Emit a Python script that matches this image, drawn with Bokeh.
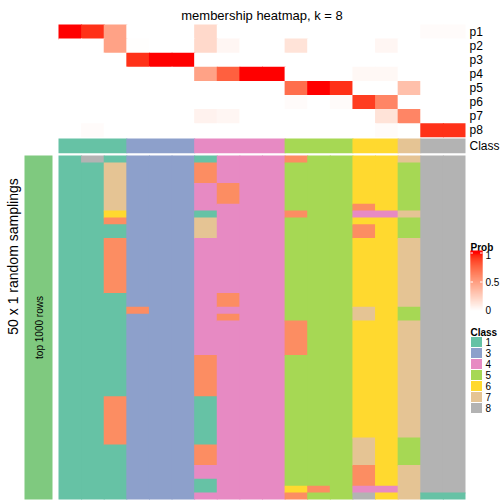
import numpy as np
from bokeh.plotting import figure
from bokeh.models import Range1d, ColumnDataSource, LinearColorMapper
from bokeh.transform import transform
from bokeh.core.properties import value
from bokeh.embed import file_html
from bokeh.resources import INLINE

# ---------------- data ----------------
title_text = "membership heatmap, k = 8"
col_class = [1, 1, 1, 3, 3, 3, 4, 4, 4, 4, 5, 5, 5, 6, 6, 7, 8, 8]
prob_labels = ["p1", "p2", "p3", "p4", "p5", "p6", "p7", "p8"]
p1 = [1.00, 0.93, 0.48, 0, 0, 0, 0.20, 0, 0, 0, 0, 0, 0, 0, 0, 0, 0.02, 0.02]
p2 = [0, 0, 0.48, 0.01, 0, 0, 0.20, 0.05, 0, 0, 0.15, 0, 0, 0, 0.05, 0, 0, 0]
p3 = [0, 0, 0, 0.93, 1.00, 1.00, 0, 0, 0, 0, 0, 0, 0, 0, 0, 0, 0, 0]
p4 = [0, 0, 0, 0, 0, 0, 0.48, 0.78, 1.00, 1.00, 0, 0, 0, 0.04, 0.04, 0, 0, 0]
p5 = [0, 0, 0, 0, 0, 0, 0, 0, 0, 0, 0.72, 1.00, 0.93, 0, 0, 0.33, 0, 0]
p6 = [0, 0, 0, 0, 0, 0, 0, 0, 0, 0, 0.02, 0, 0.02, 0.90, 0.62, 0, 0, 0]
p7 = [0, 0, 0, 0, 0, 0, 0.07, 0.05, 0, 0, 0, 0, 0, 0, 0.15, 0.62, 0, 0]
p8 = [0, 0.02, 0, 0, 0, 0, 0, 0, 0, 0, 0, 0, 0, 0, 0.02, 0, 0.93, 0.93]
prob_matrix = [p1, p2, p3, p4, p5, p6, p7, p8]

# class of each sample (column) in each of the 50 random samplings (rows)
sampling_rows = [
    "181333144425566788",
    "117333244455566588",
    "117333244455566588",
    "117333244455566588",
    "117333424455566588",
    "117333424455566588",
    "117333424455566588",
    "117333444455526588",
    "116333144425544788",
    "112333744455566588",
    "111333744455526588",
    "111333744455526588",
    "112333444455566788",
    "112333444455566788",
    "112333444455566788",
    "112333444455566788",
    "112333444455566788",
    "112333444455566788",
    "112333444455566788",
    "112333444455566788",
    "111333424455566788",
    "111333424455566788",
    "111233444455576588",
    "111333424455576588",
    "111333444425566788",
    "111333444425566788",
    "111333444425566788",
    "111333444425566788",
    "111333444425566788",
    "111333244455566788",
    "111333244455566788",
    "111333244455566788",
    "111333244455566788",
    "111333244455566788",
    "111333244455566788",
    "112333144455566788",
    "112333144455566788",
    "112333144455566788",
    "112333144455566788",
    "112333144455566788",
    "112333144455566788",
    "112333144455576588",
    "111333244455576588",
    "111333244455576588",
    "111333244455576588",
    "111333444455526788",
    "111333444455526788",
    "111333144455526788",
    "111333144462544788",
    "111333444425586711",
]

class_colors = {1: "#66C2A5", 2: "#FC8D62", 3: "#8DA0CB", 4: "#E78AC3",
                5: "#A6D854", 6: "#FFD92F", 7: "#E5C494", 8: "#B3B3B3"}
legend_classes = [1, 3, 4, 5, 6, 7, 8]
prob_ticks = [0, 0.5, 1]
prob_tick_labels = ["0", "0.5", "1"]
row_title = "50 x 1 random samplings"
anno_text = "top 1000 rows"
anno_color = "#7FC97F"

# ---------------- colour ramp white -> red in LAB ----------------
def _srgb_to_lin(c):
    return c / 12.92 if c <= 0.04045 else ((c + 0.055) / 1.055) ** 2.4

def _lin_to_srgb(c):
    c = min(max(c, 0.0), 1.0)
    return 12.92 * c if c <= 0.0031308 else 1.055 * c ** (1 / 2.4) - 0.055

WX, WY, WZ = 0.95047, 1.0, 1.08883

def rgb_to_lab(r, g, b):
    r, g, b = (_srgb_to_lin(v) for v in (r, g, b))
    X = 0.4124 * r + 0.3576 * g + 0.1805 * b
    Y = 0.2126 * r + 0.7152 * g + 0.0722 * b
    Z = 0.0193 * r + 0.1192 * g + 0.9505 * b
    def f(t):
        return t ** (1 / 3) if t > 0.008856 else 7.787 * t + 16 / 116
    fx, fy, fz = f(X / WX), f(Y / WY), f(Z / WZ)
    return 116 * fy - 16, 500 * (fx - fy), 200 * (fy - fz)

def lab_to_hex(L, a, b):
    fy = (L + 16) / 116
    fx = fy + a / 500
    fz = fy - b / 200
    def finv(t):
        return t ** 3 if t ** 3 > 0.008856 else (t - 16 / 116) / 7.787
    X, Y, Z = WX * finv(fx), WY * finv(fy), WZ * finv(fz)
    r = 3.2406 * X - 1.5372 * Y - 0.4986 * Z
    g = -0.9689 * X + 1.8758 * Y + 0.0415 * Z
    bb = 0.0557 * X - 0.2040 * Y + 1.0570 * Z
    return "#%02X%02X%02X" % tuple(int(round(_lin_to_srgb(v) * 255)) for v in (r, g, bb))

lab_w = rgb_to_lab(1, 1, 1)
lab_r = rgb_to_lab(1, 0, 0)
palette = [lab_to_hex(*[w + (rr - w) * t for w, rr in zip(lab_w, lab_r)])
           for t in np.linspace(0, 1, 256)]
mapper = LinearColorMapper(palette=palette, low=0, high=1)

# ---------------- layout (reference pixel units) ----------------
W = H = 504
REF = 504
FONT = value("Liberation Sans")
def fs(px):
    return value(f"{px}px")

n_cols = len(col_class)
HM_L, HM_R = 58, 465
cw = (HM_R - HM_L) / n_cols
TOP_Y, PH = 24, 14.1
CLASS_TOP, CLASS_H = 138, 14.8
BOT_T, BOT_B = 155, 499
n_samp = len(sampling_rows)
bh = (BOT_B - BOT_T) / n_samp
EPS_X = 1.0 / cw   # ~1px overlap so that adjacent blocks leave no hairline seams
EPS_PY = 1.0 / PH
EPS_BY = 1.0 / bh

p = figure(width=W, height=H, output_backend="svg", toolbar_location=None,
           x_range=Range1d(0, REF), y_range=Range1d(REF, 0), min_border=0)
p.axis.visible = False
p.grid.visible = False
p.outline_line_color = None
p.background_fill_color = "white"
p.border_fill_color = "white"

p.extra_x_ranges = {"cols": Range1d(-HM_L / cw, (REF - HM_L) / cw)}
p.extra_y_ranges = {
    "top": Range1d((REF - TOP_Y) / PH, -TOP_Y / PH),
    "bot": Range1d((REF - BOT_T) / bh, -BOT_T / bh),
}

def runs(seq):
    """merge consecutive equal values: returns (start, end, value)"""
    out = []
    s = 0
    for k in range(1, len(seq) + 1):
        if k == len(seq) or seq[k] != seq[s]:
            out.append((s, k, seq[s]))
            s = k
    return out

# probability heatmap
pl, pr, pt, pb, pv = [], [], [], [], []
n_p = len(prob_matrix)
for i, row in enumerate(prob_matrix):
    for j, v in enumerate(row):
        pl.append(j)
        pr.append(j + 1 + (EPS_X if j < n_cols - 1 else 0))
        pt.append(i)
        pb.append(i + 1 + (EPS_PY if i < n_p - 1 else 0))
        pv.append(v)
src_p = ColumnDataSource(dict(left=pl, right=pr, top=pt, bottom=pb, v=pv))
p.quad(left="left", right="right", top="top", bottom="bottom", source=src_p,
       fill_color=transform("v", mapper), line_color=None,
       x_range_name="cols", y_range_name="top")

# row labels
p.text(x=[HM_R + 4] * len(prob_labels), y=[i + 0.5 for i in range(len(prob_labels))],
       text=prob_labels, text_font=FONT, text_font_size=fs(12), text_color="black",
       text_align="left", text_baseline="middle", y_range_name="top")

# class row (runs of equal class merged)
cls_y = (CLASS_TOP - TOP_Y) / PH
cls_h = CLASS_H / PH
cr = runs(col_class)
src_c = ColumnDataSource(dict(
    left=[a for a, b, k in cr],
    right=[b + (EPS_X if b < n_cols else 0) for a, b, k in cr],
    c=[class_colors[k] for a, b, k in cr]))
p.quad(left="left", right="right", top=cls_y, bottom=cls_y + cls_h, source=src_c,
       fill_color="c", line_color=None, x_range_name="cols", y_range_name="top")
p.text(x=[HM_R + 4], y=[cls_y + cls_h / 2], text=["Class"], text_font=FONT,
       text_font_size=fs(12), text_align="left", text_baseline="middle",
       y_range_name="top")

# sampling heatmap: per column, runs of equal class merged into one block
bl, br, bt, bb_, bc = [], [], [], [], []
for j in range(n_cols):
    colseq = [int(row[j]) for row in sampling_rows]
    for a, b, k in runs(colseq):
        bl.append(j)
        br.append(j + 1 + (EPS_X if j < n_cols - 1 else 0))
        bt.append(a)
        bb_.append(b + (EPS_BY if b < n_samp else 0))
        bc.append(class_colors[k])
src_b = ColumnDataSource(dict(left=bl, right=br, top=bt, bottom=bb_, c=bc))
p.quad(left="left", right="right", top="top", bottom="bottom", source=src_b,
       fill_color="c", line_color=None, x_range_name="cols", y_range_name="bot")

# left annotation bar
p.quad(left=[24], right=[52], top=[0], bottom=[n_samp], fill_color=anno_color,
       line_color=None, y_range_name="bot")
p.text(x=[38.5], y=[n_samp / 2], text=[anno_text], angle=np.pi / 2, text_font=FONT,
       text_font_size=fs(10), text_align="center", text_baseline="middle",
       y_range_name="bot")

# row title
p.text(x=[12.5], y=[256], text=[row_title], angle=np.pi / 2, text_font=FONT,
       text_font_size=fs(14), text_align="center", text_baseline="middle")

# title
p.text(x=[(HM_L + HM_R) / 2], y=[15], text=[title_text], text_font=FONT,
       text_font_size=fs(13), text_align="center", text_baseline="alphabetic")

# Prob legend
LX0, LX1 = 470, 482
CB_TOP, CB_BOT = 250.5, 310.5
def vy(v):
    return 310.5 - 58 * v
p.text(x=[LX0], y=[247], text=["Prob"], text_font=FONT, text_font_size=fs(10),
       text_font_style="bold", text_align="left", text_baseline="alphabetic")
n_steps = 120
seg = (CB_BOT - CB_TOP) / n_steps
src_cb = ColumnDataSource(dict(
    top=[CB_BOT - (k + 1) * seg - 0.4 for k in range(n_steps)],
    bottom=[CB_BOT - k * seg for k in range(n_steps)],
    v=[min(1.0, (k + 0.5) * seg / 58) for k in range(n_steps)]))
p.quad(left=LX0, right=LX1, top="top", bottom="bottom", source=src_cb,
       fill_color=transform("v", mapper), line_color=None)
for t in prob_ticks[1:]:
    p.segment(x0=[LX0, LX1 - 2.5], x1=[LX0 + 2.5, LX1], y0=[vy(t)] * 2, y1=[vy(t)] * 2,
              line_color="white", line_width=1)
lab_y = [min(max(vy(t), 254), 309) for t in prob_ticks]
p.text(x=[485] * len(prob_ticks), y=lab_y, text=prob_tick_labels, text_font=FONT,
       text_font_size=fs(10), text_align="left", text_baseline="middle")

# Class legend
p.text(x=[LX0], y=[332], text=["Class"], text_font=FONT, text_font_size=fs(10),
       text_font_style="bold", text_align="left", text_baseline="alphabetic")
BOX0, BOXH = 336, 11
src_l = ColumnDataSource(dict(
    top=[BOX0 + k * BOXH for k in range(len(legend_classes))],
    bottom=[BOX0 + (k + 1) * BOXH for k in range(len(legend_classes))],
    c=[class_colors[k] for k in legend_classes],
    ym=[BOX0 + (k + 0.5) * BOXH for k in range(len(legend_classes))],
    lab=[str(k) for k in legend_classes]))
p.quad(left=LX0, right=LX1, top="top", bottom="bottom", source=src_l,
       fill_color="c", line_color="white", line_width=1)
p.text(x=485, y="ym", text="lab", source=src_l, text_font=FONT,
       text_font_size=fs(10), text_align="left", text_baseline="middle")

open("out.html", "w").write(file_html(p, INLINE))
